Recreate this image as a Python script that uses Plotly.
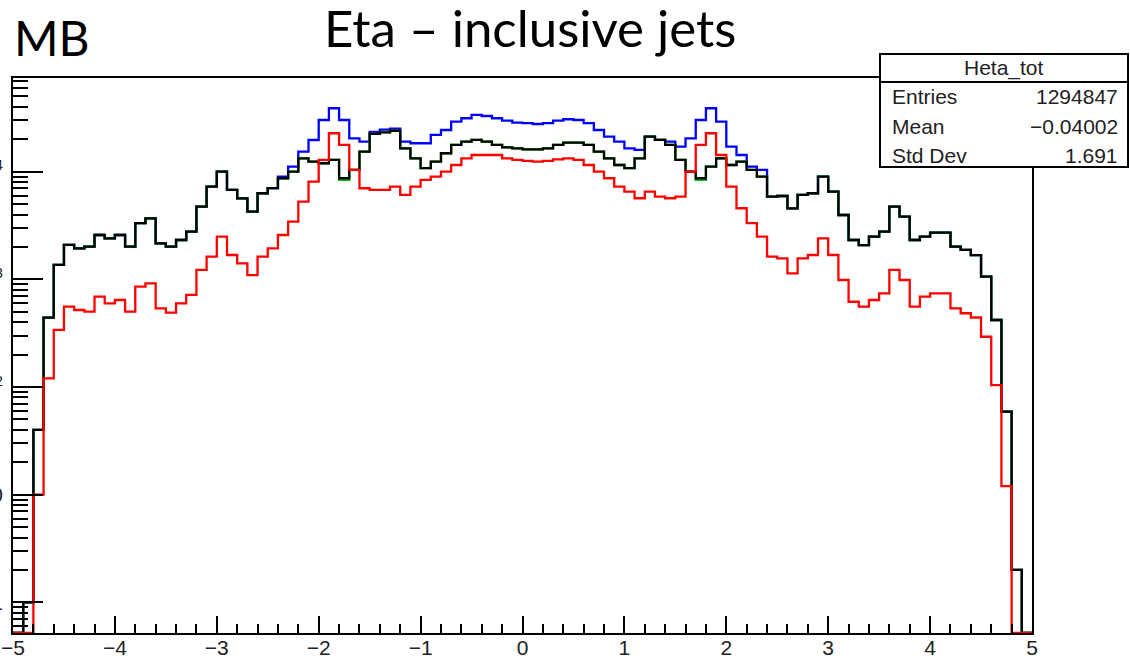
import plotly.graph_objects as go

# ---------------- data ----------------
eta_lo, eta_hi, n_bins = -5.0, 5.0, 100

# total (blue)
counts_tot = [0, 1, 40, 440, 1360, 2085, 1940, 2010, 2580, 2400,
              2580, 2010, 3320, 3690, 2160, 2010, 2320, 2770, 4730, 7260,
              10000, 6760, 5660, 4250, 6300, 7020, 9000, 11140, 15350, 19680,
              30200, 38800, 30200, 20420, 19010, 23440, 24550, 25120, 19010, 18370,
              18370, 21930, 24380, 29170, 31330, 33650, 32890, 31330, 29790, 28580,
              28180, 27730, 28180, 29790, 30690, 30200, 28180, 24380, 21180, 19010,
              16480, 15920, 21180, 19720, 19010, 17100, 20420, 30200, 38800, 29170,
              17100, 14290, 11140, 10380, 5860, 5940, 4570, 6080, 6300, 9000,
              6520, 3960, 2320, 2080, 2490, 2770, 4730, 3830, 2320, 2490,
              2720, 2720, 2010, 1875, 1680, 1060, 419, 59, 2, 0]

# green
counts_green = [0, 1, 40, 440, 1360, 2085, 1940, 2010, 2580, 2400,
                2580, 2010, 3320, 3690, 2160, 2010, 2320, 2770, 4730, 7260,
                10000, 6760, 5660, 4250, 6300, 7020, 8690, 10000, 13300, 12390,
                11970, 12850, 8400, 10380, 15350, 22400, 23200, 24000, 16480, 13300,
                10770, 12390, 14830, 17700, 19010, 19720, 19010, 17700, 16830, 16480,
                16140, 16140, 16480, 17700, 18580, 18580, 17700, 15350, 13300, 11530,
                10770, 13300, 21180, 19720, 17700, 12850, 10000, 8400, 11140, 13300,
                11530, 12390, 10380, 9000, 5860, 5940, 4570, 6080, 6300, 9000,
                6520, 3960, 2320, 2080, 2490, 2770, 4730, 3830, 2320, 2490,
                2720, 2720, 2010, 1875, 1680, 1060, 419, 59, 2, 0]

# black
counts_black = [0, 1, 40, 440, 1360, 2085, 1940, 2010, 2580, 2400,
                2580, 2010, 3320, 3690, 2160, 2010, 2320, 2770, 4730, 7260,
                10000, 6760, 5660, 4250, 6300, 7020, 8690, 10000, 13300, 12390,
                11970, 12850, 8690, 10380, 15350, 22400, 23200, 24000, 16480, 13300,
                10770, 12390, 14830, 17700, 19010, 19720, 19010, 17700, 16830, 16480,
                16140, 16140, 16480, 17700, 18580, 18580, 17700, 15350, 13300, 11530,
                10770, 13300, 21180, 19720, 17700, 12850, 10000, 8690, 11140, 13300,
                11530, 12390, 10380, 9000, 5860, 5940, 4570, 6080, 6300, 9000,
                6520, 3960, 2320, 2080, 2490, 2770, 4730, 3830, 2320, 2490,
                2720, 2720, 2010, 1875, 1680, 1060, 419, 59, 2, 0]

# red
counts_red = [0, 0, 10, 120, 339, 557, 519, 501, 690, 598,
              643, 501, 855, 918, 538, 490, 598, 716, 1222, 1622,
              2490, 1683, 1409, 1096, 1622, 1941, 2582, 3436, 5260, 8072,
              12850, 22750, 17700, 10380, 7015, 6761, 6761, 7261, 6081, 7261,
              8400, 8995, 10000, 11530, 13300, 14290, 14290, 14290, 13300, 12850,
              12590, 12390, 12590, 13030, 13300, 12850, 11530, 10000, 8690, 7261,
              6516, 5662, 6516, 5860, 5662, 5860, 10000, 17700, 22750, 14290,
              7261, 4571, 3320, 2490, 1622, 1567, 1138, 1567, 1683, 2404,
              1683, 986, 619, 557, 643, 741, 1222, 986, 557, 690,
              741, 741, 538, 484, 442, 293, 104, 12, 0, 0]

x_tick_vals = [-5, -4, -3, -2, -1, 0, 1, 2, 3, 4, 5]
y_tick_vals = [1, 10, 100, 1000, 10000]
y_tick_text = ["1", "10", "10<sup>2</sup>", "10<sup>3</sup>", "10<sup>4</sup>"]
y_minor_vals = [0.6, 0.7, 0.8, 0.9,
                2, 3, 4, 5, 6, 7, 8, 9,
                20, 30, 40, 50, 60, 70, 80, 90,
                200, 300, 400, 500, 600, 700, 800, 900,
                2000, 3000, 4000, 5000, 6000, 7000, 8000, 9000,
                20000, 30000, 40000, 50000, 60000, 70000]

stats_name = "Heta_tot"
stats_rows = [("Entries", "1294847"), ("Mean", "\u22120.04002"), ("Std Dev", "1.691")]

# ---------------- layout geometry ----------------
W, H = 1130, 660
L, R, T, B = 13, 98, 78, 27
PW, PH = W - L - R, H - T - B
y_range = [-0.285, 4.870]
y_floor = 10 ** y_range[0]


def px2x(px):
    return (px - L) / PW


def py2y(py):
    return (H - B - py) / PH


bin_w = (eta_hi - eta_lo) / n_bins
edges = [eta_lo + i * bin_w for i in range(n_bins + 1)]


def step_y(counts):
    vals = [c if c > 0 else y_floor for c in counts]
    return vals + [vals[-1]]


fig = go.Figure()
for counts, col in [(counts_tot, "#0000ff"), (counts_green, "#00c000"),
                    (counts_black, "#000000"), (counts_red, "#ff0000")]:
    fig.add_trace(go.Scatter(x=edges, y=step_y(counts), mode="lines",
                             line=dict(color=col, width=2.3, shape="hv"),
                             hoverinfo="skip", showlegend=False))

axis_font = dict(family="Liberation Sans, Arial, sans-serif", size=21, color="#222")

fig.update_layout(
    width=W, height=H,
    margin=dict(l=L, r=R, t=T, b=B, pad=0),
    paper_bgcolor="white", plot_bgcolor="white",
    showlegend=False,
    xaxis=dict(range=[eta_lo, eta_hi], tickmode="array", tickvals=x_tick_vals,
               ticks="inside", ticklen=17, tickwidth=2, tickcolor="black",
               showline=True, linewidth=2, linecolor="black", mirror=True,
               showgrid=False, zeroline=False, automargin=False,
               tickfont=axis_font, ticklabelstandoff=-5,
               minor=dict(tickmode="linear", tick0=-5, dtick=0.2, ticks="inside",
                          ticklen=9, tickwidth=2, tickcolor="black", showgrid=False)),
    yaxis=dict(type="log", range=y_range, tickmode="array", tickvals=y_tick_vals,
               ticktext=y_tick_text,
               ticks="inside", ticklen=30, tickwidth=2, tickcolor="black",
               showline=True, linewidth=2, linecolor="black", mirror=True,
               showgrid=False, zeroline=False, automargin=False,
               tickfont=axis_font, ticklabelstandoff=4,
               minor=dict(tickmode="array", tickvals=y_minor_vals, ticks="inside",
                          ticklen=15, tickwidth=2, tickcolor="black", showgrid=False)),
)

# stats box
box_l, box_r, box_t, box_b, box_sep = 880, 1128, 54, 167, 82
fig.add_shape(type="rect", xref="paper", yref="paper",
              x0=px2x(box_l), x1=px2x(box_r), y0=py2y(box_b), y1=py2y(box_t),
              line=dict(color="black", width=2), fillcolor="white", layer="above")
fig.add_shape(type="line", xref="paper", yref="paper",
              x0=px2x(box_l), x1=px2x(box_r), y0=py2y(box_sep), y1=py2y(box_sep),
              line=dict(color="black", width=2), layer="above")

stat_font = dict(family="Liberation Sans, Arial, sans-serif", size=21, color="#222")
fig.add_annotation(xref="paper", yref="paper", x=px2x((box_l + box_r) / 2), y=py2y(68),
                   text=stats_name, showarrow=False, xanchor="center", yanchor="middle",
                   font=stat_font)
row_y = [97, 126, 155]
for (lab, val), yy in zip(stats_rows, row_y):
    fig.add_annotation(xref="paper", yref="paper", x=px2x(890), y=py2y(yy), text=lab,
                       showarrow=False, xanchor="left", yanchor="middle", font=stat_font)
    fig.add_annotation(xref="paper", yref="paper", x=px2x(1120), y=py2y(yy), text=val,
                       showarrow=False, xanchor="right", yanchor="middle", font=stat_font)

# slide titles
fig.add_annotation(xref="paper", yref="paper", x=px2x(12), y=py2y(37), text="MB",
                   showarrow=False, xanchor="left", yanchor="middle",
                   font=dict(family="Lato, Carlito, Calibri, sans-serif", size=48, color="black"))
fig.add_annotation(xref="paper", yref="paper", x=px2x(530), y=py2y(27),
                   text="Eta \u2013 inclusive jets",
                   showarrow=False, xanchor="center", yanchor="middle",
                   font=dict(family="Lato, Carlito, Calibri, sans-serif", size=51, color="black"))

fig.write_html("out.html",
               config={"displayModeBar": False},
               post_script="document.body.style.margin='0';document.body.style.padding='0';")
